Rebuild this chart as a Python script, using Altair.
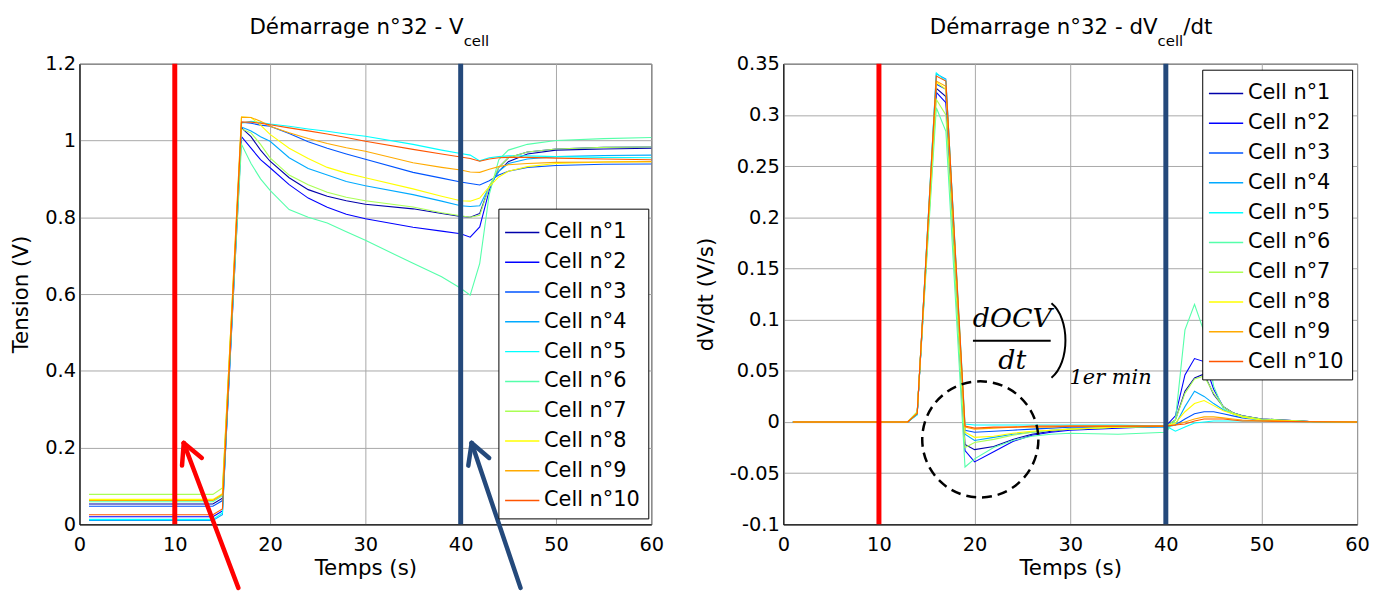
import altair as alt
import pandas as pd

FONT = "DejaVu Sans"
SERIF = "DejaVu Serif"

cells = ["Cell n°%d" % i for i in range(1, 11)]
jet10 = ["#0000AA", "#0000FF", "#0055FF", "#00AAFF", "#00FFFF",
         "#55FFAA", "#AAFF55", "#FFFF00", "#FFAA00", "#FF5500"]

# ---------------- Left panel : Vcell (V) ----------------
t_v = [1, 14, 15, 17, 18, 19, 20, 22, 24, 26, 28, 30, 35, 38, 40, 41, 42, 43, 44, 45, 47, 50, 55, 60]
v_c1 = [0.053, 0.053, 0.068, 1.033, 1.010, 0.975, 0.946, 0.903, 0.872, 0.855, 0.843, 0.834, 0.822, 0.810, 0.802, 0.800, 0.810, 0.880, 0.920, 0.945, 0.965, 0.975, 0.978, 0.980]
v_c2 = [0.020, 0.020, 0.035, 1.010, 0.980, 0.950, 0.929, 0.885, 0.850, 0.826, 0.808, 0.796, 0.774, 0.764, 0.757, 0.748, 0.775, 0.870, 0.930, 0.955, 0.970, 0.978, 0.982, 0.983]
v_c3 = [0.047, 0.047, 0.062, 1.048, 1.045, 1.040, 1.037, 1.018, 0.997, 0.980, 0.965, 0.951, 0.917, 0.902, 0.892, 0.888, 0.884, 0.895, 0.910, 0.920, 0.930, 0.935, 0.938, 0.939]
v_c4 = [0.010, 0.010, 0.025, 1.035, 1.025, 1.010, 0.998, 0.955, 0.927, 0.910, 0.893, 0.882, 0.859, 0.842, 0.830, 0.828, 0.830, 0.880, 0.920, 0.940, 0.952, 0.958, 0.961, 0.962]
v_c5 = [0.013, 0.013, 0.030, 1.045, 1.050, 1.047, 1.043, 1.037, 1.030, 1.024, 1.017, 1.011, 0.990, 0.975, 0.966, 0.962, 0.947, 0.955, 0.958, 0.960, 0.960, 0.958, 0.956, 0.955]
v_c6 = [0.059, 0.059, 0.075, 0.990, 0.940, 0.900, 0.870, 0.820, 0.800, 0.785, 0.762, 0.740, 0.680, 0.645, 0.615, 0.597, 0.680, 0.860, 0.950, 0.975, 0.990, 1.000, 1.005, 1.008]
v_c7 = [0.078, 0.078, 0.095, 1.030, 1.020, 0.990, 0.955, 0.910, 0.885, 0.865, 0.852, 0.843, 0.827, 0.812, 0.804, 0.800, 0.805, 0.880, 0.930, 0.955, 0.970, 0.978, 0.982, 0.983]
v_c8 = [0.065, 0.065, 0.080, 1.061, 1.060, 1.040, 1.016, 0.980, 0.953, 0.930, 0.915, 0.903, 0.874, 0.855, 0.843, 0.842, 0.850, 0.880, 0.905, 0.920, 0.932, 0.940, 0.944, 0.945]
v_c9 = [0.062, 0.062, 0.078, 1.061, 1.060, 1.050, 1.037, 1.020, 1.005, 0.992, 0.981, 0.972, 0.942, 0.930, 0.923, 0.918, 0.917, 0.925, 0.932, 0.937, 0.940, 0.943, 0.944, 0.945]
v_c10 = [0.025, 0.025, 0.040, 1.048, 1.048, 1.045, 1.041, 1.033, 1.025, 1.017, 1.008, 0.998, 0.977, 0.965, 0.957, 0.953, 0.946, 0.952, 0.955, 0.956, 0.956, 0.954, 0.952, 0.950]
v_series = [v_c1, v_c2, v_c3, v_c4, v_c5, v_c6, v_c7, v_c8, v_c9, v_c10]

# ---------------- Right panel : dV/dt (V/s) ----------------
t_d = [1, 13, 14, 16, 17, 19, 20, 22, 24, 26, 28, 30, 35, 40, 41, 42, 43, 44, 45, 46, 47, 48, 50, 55, 60]
d_c1 = [0, 0, 0.008, 0.326, 0.318, -0.022, -0.027, -0.024, -0.017, -0.012, -0.009, -0.007, -0.005, -0.004, 0.002, 0.030, 0.043, 0.047, 0.027, 0.015, 0.009, 0.006, 0.003, 0.0005, 0]
d_c2 = [0, 0, 0.008, 0.322, 0.312, -0.028, -0.039, -0.029, -0.019, -0.013, -0.010, -0.008, -0.006, -0.004, 0.006, 0.046, 0.062, 0.059, 0.032, 0.015, 0.009, 0.006, 0.003, 0.0005, 0]
d_c3 = [0, 0, 0.008, 0.330, 0.325, -0.008, -0.010, -0.009, -0.008, -0.007, -0.006, -0.005, -0.005, -0.004, -0.003, 0.003, 0.008, 0.010, 0.010, 0.008, 0.006, 0.004, 0.002, 0.0005, 0]
d_c4 = [0, 0, 0.007, 0.340, 0.335, -0.012, -0.018, -0.015, -0.012, -0.010, -0.008, -0.007, -0.005, -0.005, -0.003, 0.015, 0.030, 0.025, 0.018, 0.012, 0.008, 0.005, 0.002, 0.0005, 0]
d_c5 = [0, 0, 0.007, 0.341, 0.333, -0.002, -0.003, -0.003, -0.003, -0.003, -0.003, -0.003, -0.003, -0.004, -0.009, -0.005, -0.001, 0.000, 0.001, 0.001, 0.001, 0.001, 0.001, 0.0003, 0]
d_c6 = [0, 0, 0.010, 0.307, 0.284, -0.044, -0.036, -0.025, -0.018, -0.014, -0.012, -0.011, -0.012, -0.010, 0.002, 0.090, 0.115, 0.088, 0.035, 0.013, 0.008, 0.005, 0.002, 0.0003, 0]
d_c7 = [0, 0, 0.010, 0.315, 0.300, -0.025, -0.020, -0.017, -0.013, -0.010, -0.008, -0.007, -0.005, -0.004, 0.002, 0.028, 0.042, 0.045, 0.028, 0.015, 0.009, 0.006, 0.003, 0.0005, 0]
d_c8 = [0, 0, 0.009, 0.332, 0.325, -0.010, -0.015, -0.014, -0.011, -0.009, -0.008, -0.007, -0.005, -0.004, -0.001, 0.010, 0.018, 0.021, 0.016, 0.011, 0.008, 0.005, 0.002, 0.0005, 0]
d_c9 = [0, 0, 0.009, 0.333, 0.328, -0.005, -0.007, -0.006, -0.005, -0.005, -0.005, -0.004, -0.004, -0.004, -0.003, 0.000, 0.003, 0.005, 0.005, 0.004, 0.003, 0.002, 0.001, 0.0003, 0]
d_c10 = [0, 0, 0.008, 0.338, 0.333, -0.004, -0.006, -0.005, -0.005, -0.004, -0.004, -0.004, -0.004, -0.004, -0.003, -0.002, 0.001, 0.003, 0.003, 0.003, 0.002, 0.001, 0.001, 0.0003, 0]
d_series = [d_c1, d_c2, d_c3, d_c4, d_c5, d_c6, d_c7, d_c8, d_c9, d_c10]

# event markers (s)
t_start = 10
t_stop = 40

# annotation geometry in data units
red_arrow_t = [10.94, 10.94, 10.94]
red_arrow_v = [0.212, 0.212, 0.212]
red_arrow_t2 = [16.67, 10.76, 12.84]
red_arrow_v2 = [-0.1655, 0.153, 0.173]
blue_arrow_t = [41.15, 41.15, 41.15]
blue_arrow_v = [0.212, 0.212, 0.212]
blue_arrow_t2 = [46.28, 40.80, 42.99]
blue_arrow_v2 = [-0.1655, 0.153, 0.173]


def long_df(times, series):
    rows = []
    for name, ser in zip(cells, series):
        for t, v in zip(times, ser):
            rows.append({"t": t, "val": v, "cell": name})
    return pd.DataFrame(rows)


df_v = long_df(t_v, v_series)
df_d = long_df(t_d, d_series)

RED = "#FF0000"
BLUE = "#24497B"


def x_enc():
    return alt.X("t:Q", scale=alt.Scale(domain=[0, 60], nice=False, zero=False),
                 axis=alt.Axis(values=[0, 10, 20, 30, 40, 50, 60], title="Temps (s)",
                               labelFlush=False, labelPadding=11, titlePadding=4))


def legend(lx, ly):
    return alt.Legend(title=None, orient="none", legendX=lx, legendY=ly,
                      strokeColor="black", fillColor="white", padding=8,
                      symbolType="M-1.15,0H1.15", symbolSize=900, symbolStrokeWidth=1.5,
                      labelFontSize=21, labelFont=FONT, labelColor="black",
                      labelOffset=6, rowPadding=4, labelLimit=400)


def color_enc(lx, ly):
    return alt.Color("cell:N", scale=alt.Scale(domain=cells, range=jet10),
                     sort=cells, legend=legend(lx, ly))


def one_row():
    return pd.DataFrame({"a": [0]})


def vrule(t, col, width):
    return alt.Chart(pd.DataFrame({"t": [t]})).mark_rule(color=col, strokeWidth=width).encode(
        x=alt.X("t:Q"))


def title_text(txt, x, y, size, align="left"):
    return alt.Chart(one_row()).mark_text(text=txt, font=FONT, fontSize=size, align=align,
                                          baseline="alphabetic", color="black").encode(
        x=alt.value(x), y=alt.value(y))


def arrow(ts, vs, ts2, vs2, col):
    df = pd.DataFrame({"t": ts, "val": vs, "t2": ts2, "v2": vs2})
    return alt.Chart(df).mark_rule(color=col, strokeWidth=4.5, strokeCap="round", clip=False).encode(
        x=alt.X("t:Q"), y=alt.Y("val:Q"), x2="t2:Q", y2="v2:Q")


# ---------------- left chart ----------------
lines_l = alt.Chart(df_v).mark_line(strokeWidth=1.1).encode(
    x=x_enc(),
    y=alt.Y("val:Q", scale=alt.Scale(domain=[0, 1.2], nice=False),
            axis=alt.Axis(values=[0, 0.2, 0.4, 0.6, 0.8, 1, 1.2], format="~g",
                          title="Tension (V)", labelPadding=4, titlePadding=12)),
    color=color_enc(422, 146),
    order="t:Q",
)

left = alt.layer(
    lines_l,
    vrule(t_start, RED, 5),
    vrule(t_stop, BLUE, 5),
    arrow(red_arrow_t, red_arrow_v, red_arrow_t2, red_arrow_v2, RED),
    arrow(blue_arrow_t, blue_arrow_v, blue_arrow_t2, blue_arrow_v2, BLUE),
    title_text("Démarrage n°32 - V", 387, -30, 21.5, "right"),
    title_text("cell", 387, -18, 15),
).properties(width=576, height=464)

# ---------------- right chart ----------------
lines_r = alt.Chart(df_d).mark_line(strokeWidth=1.1).encode(
    x=x_enc(),
    y=alt.Y("val:Q", scale=alt.Scale(domain=[-0.1, 0.35], nice=False, zero=False),
            axis=alt.Axis(values=[-0.1, -0.05, 0, 0.05, 0.1, 0.15, 0.2, 0.25, 0.3, 0.35],
                          format="~g", labelExpr="replace(datum.label, '−', '-')",
                          title="dV/dt (V/s)", labelPadding=4, titlePadding=12)),
    color=color_enc(422, 6),
    order="t:Q",
)

circle = alt.Chart(pd.DataFrame({"t": [20.6], "val": [-0.017]})).mark_point(
    shape="circle", size=13689, filled=False, color="black", strokeWidth=2.5,
    strokeDash=[10, 6], opacity=1).encode(x=alt.X("t:Q"), y=alt.Y("val:Q"))

frac_bar = alt.Chart(pd.DataFrame({"t": [19.83], "t2": [27.96], "val": [0.0794]})).mark_rule(
    color="black", strokeWidth=2).encode(x=alt.X("t:Q"), x2="t2:Q", y=alt.Y("val:Q"))


def math_text(txt, t, v, size):
    return alt.Chart(pd.DataFrame({"t": [t], "val": [v]})).mark_text(
        text=txt, font=SERIF, fontStyle="italic", fontSize=size, align="center",
        baseline="alphabetic", color="black").encode(
        x=alt.X("t:Q"), y=alt.Y("val:Q"))


paren = alt.Chart(pd.DataFrame({"t": [28.82], "val": [0.0796]})).mark_point(
    shape="M-0.2,-1C0.3,-0.6,0.3,0.6,-0.2,1", size=5625, filled=False, color="black",
    strokeWidth=2, opacity=1).encode(x=alt.X("t:Q"), y=alt.Y("val:Q"))

right = alt.layer(
    lines_r,
    vrule(t_start, RED, 5),
    vrule(t_stop, BLUE, 5),
    circle,
    frac_bar,
    math_text("dOCV", 23.94, 0.093, 27),
    math_text("dt", 23.94, 0.0516, 27),
    paren,
    math_text("1er min", 34.22, 0.0374, 21),
    title_text("Démarrage n°32 - dV", 377, -30, 21.5, "right"),
    title_text("cell", 377, -18, 15),
    title_text("/dt", 403, -30, 21.5),
).properties(width=578, height=464)

chart = alt.hconcat(left, right, spacing=31).resolve_scale(color="independent").properties(
    padding={"left": 2, "top": 6, "right": 0, "bottom": 0}, background="white"
).configure_view(stroke="black", strokeWidth=1).configure_axis(
    labelFont=FONT, titleFont=FONT, labelFontSize=19.5, titleFontSize=21.5,
    labelColor="black", titleColor="black", titleFontWeight="normal",
    ticks=False, domainColor="black", domainWidth=1,
    grid=True, gridColor="#a8a8a8", gridWidth=1, labelOverlap=False,
)

chart.save("out.html", embed_options={"renderer": "svg", "actions": False})
